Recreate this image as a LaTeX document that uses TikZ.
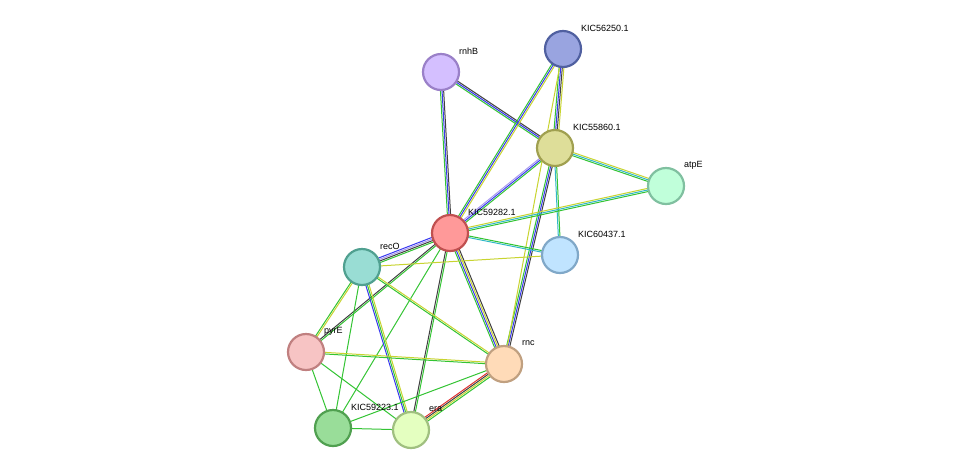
\documentclass[tikz,border=0pt]{standalone}
\usepackage{fontspec}
\setmainfont{Liberation Sans}
\usetikzlibrary{calc}
\definecolor{eg}{HTML}{33C433}
\definecolor{eb}{HTML}{3838F0}
\definecolor{ek}{HTML}{404040}
\definecolor{ey}{HTML}{C8D430}
\definecolor{ec}{HTML}{30B8C8}
\definecolor{ep}{HTML}{A898F0}
\definecolor{er}{HTML}{E03030}
\newcommand{\sedge}[4]{%
  \foreach \c [count=\i] in {#4}{%
    \pgfmathsetmacro{\off}{(\i-(#3+1)/2)*1.6}
    \draw[\c, line width=1pt] ($(#1)!\off pt!90:(#2)$) -- ($(#2)!\off pt!-90:(#1)$);
  }}
\newcommand{\pnode}[5]{%
  \definecolor{f#1}{HTML}{#2}\definecolor{s#1}{HTML}{#3}%
  \node[nd,fill=f#1,draw=s#1] (n#1) at (#1) {};
  \node[lb] (l#1) at ($(#1)+(18,-21)$) {#5};}
\begin{document}
\begin{tikzpicture}[x=1pt,y=-1pt,
  nd/.style={circle,minimum size=36pt,line width=2.2pt,inner sep=0pt},
  lb/.style={anchor=west,font=\fontsize{9}{10}\selectfont,inner sep=0pt}]
\fill[white] (0,0) rectangle (976,475);
\coordinate (rnhB) at (441,72);
\coordinate (k56) at (563,49);
\coordinate (k55) at (555,148);
\coordinate (atpE) at (666,186);
\coordinate (k82) at (450,233);
\coordinate (k60) at (560,255);
\coordinate (recO) at (362,267);
\coordinate (pyrE) at (306,352);
\coordinate (rnc) at (504,364);
\coordinate (k23) at (333,428);
\coordinate (era) at (411,430);
\sedge{rnhB}{k82}{3}{eg,eb,ek}
\sedge{rnhB}{k55}{3}{eg,eb,ek}
\sedge{k56}{k82}{3}{eg,eb,ey}
\sedge{k56}{k55}{4}{eg,eb,ek,ey}
\sedge{k55}{k82}{3}{ep,eb,eg}
\sedge{k55}{atpE}{3}{eg,ec,ey}
\sedge{k55}{k60}{2}{ec,eg}
\sedge{k55}{rnc}{3}{eg,eb,ek}
\sedge{k56}{rnc}{1}{ey}
\sedge{k82}{atpE}{3}{eg,ec,ey}
\sedge{k82}{k60}{2}{ec,eg}
\sedge{k82}{recO}{4}{eb,ep,ek,eg}
\sedge{k82}{rnc}{4}{eg,eb,ey,ek}
\sedge{k82}{pyrE}{2}{ek,eg}
\sedge{k82}{era}{2}{ek,eg}
\sedge{k82}{k23}{1}{eg}
\sedge{recO}{k60}{1}{ey}
\sedge{recO}{pyrE}{2}{eg,ey}
\sedge{recO}{k23}{1}{eg}
\sedge{recO}{era}{3}{eb,eg,ey}
\sedge{recO}{rnc}{2}{eg,ey}
\sedge{pyrE}{rnc}{2}{eg,ey}
\sedge{pyrE}{k23}{1}{eg}
\sedge{pyrE}{era}{1}{eg}
\sedge{k23}{era}{1}{eg}
\sedge{k23}{rnc}{1}{eg}
\sedge{era}{rnc}{4}{eg,ey,ek,er}
\pnode{rnhB}{D4BFFF}{9A80C8}{}{rnhB}
\pnode{k56}{99A4E0}{5060A0}{}{KIC56250.1}
\pnode{k55}{DEDE99}{A0A050}{}{KIC55860.1}
\pnode{atpE}{C0FFDA}{80C0A0}{}{atpE}
\pnode{k82}{FF9999}{C05050}{}{KIC59282.1}
\pnode{k60}{C0E4FF}{80A8C8}{}{KIC60437.1}
\pnode{recO}{99DDD4}{50A090}{}{recO}
\pnode{pyrE}{F7C4C4}{C08080}{}{pyrE}
\pnode{rnc}{FFDBB8}{C0A080}{}{rnc}
\pnode{k23}{99DD99}{50A050}{}{KIC59223.1}
\pnode{era}{E4FFC0}{A0C080}{}{era}
\end{tikzpicture}
\end{document}
